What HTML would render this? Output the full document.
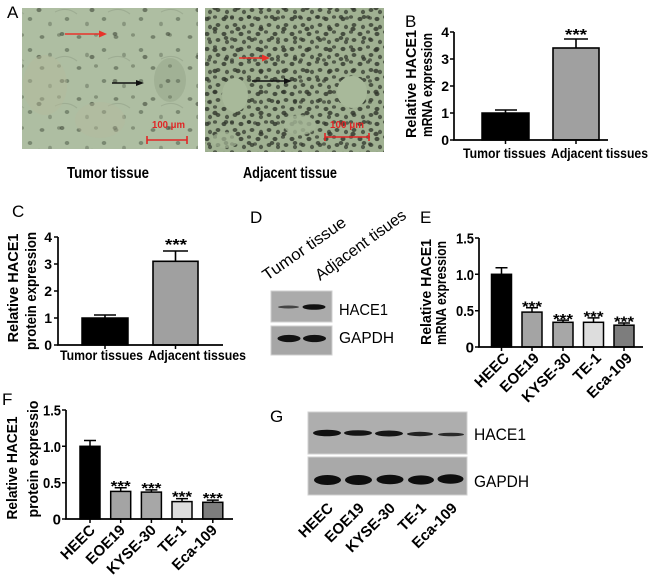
<!DOCTYPE html>
<html><head><meta charset="utf-8"><style>
html,body{margin:0;padding:0;background:#fff;}
svg{display:block;}
text{font-family:"Liberation Sans",Arial,sans-serif;}
.b{font-weight:bold;}
</style></head><body>
<svg width="651" height="575" viewBox="0 0 651 575" xmlns="http://www.w3.org/2000/svg">
<defs>
<pattern id="pT1" patternUnits="userSpaceOnUse" width="37" height="31">
<ellipse cx="5" cy="6" rx="2.4" ry="1.9" fill="#4f5a48" opacity=".6"/>
<ellipse cx="22" cy="4" rx="2" ry="1.7" fill="#4f5a48" opacity=".45"/>
<ellipse cx="30" cy="19" rx="2.3" ry="2" fill="#4f5a48" opacity=".55"/>
<ellipse cx="13" cy="24" rx="1.9" ry="2.2" fill="#4f5a48" opacity=".4"/>
</pattern>
<pattern id="pT2" patternUnits="userSpaceOnUse" width="53" height="47">
<ellipse cx="9" cy="34" rx="2.4" ry="2" fill="#3f4839" opacity=".6"/>
<ellipse cx="39" cy="10" rx="2.5" ry="2.1" fill="#3f4839" opacity=".6"/>
<path d="M2 12 Q14 6 24 14" stroke="#8e9c84" stroke-width="1.2" fill="none" opacity=".5"/>
</pattern>
<pattern id="pA1" patternUnits="userSpaceOnUse" width="17" height="15">
<ellipse cx="3" cy="4" rx="2.5" ry="2.1" fill="#363d31" opacity=".85"/>
<ellipse cx="11" cy="2" rx="2.1" ry="1.8" fill="#363d31" opacity=".75"/>
<ellipse cx="14" cy="10" rx="2.4" ry="2" fill="#363d31" opacity=".8"/>
<ellipse cx="6" cy="12" rx="2.1" ry="2.2" fill="#363d31" opacity=".75"/>
</pattern>
<pattern id="pA2" patternUnits="userSpaceOnUse" width="23" height="21">
<ellipse cx="8" cy="8" rx="2.6" ry="2.2" fill="#2f352b" opacity=".8"/>
<ellipse cx="19" cy="17" rx="2.3" ry="2" fill="#2f352b" opacity=".75"/>
<ellipse cx="2" cy="18" rx="2" ry="1.8" fill="#2f352b" opacity=".65"/>
</pattern>
</defs>

<!-- Panel A -->
<text x="7" y="18" font-size="17">A</text>
<rect x="22" y="8" width="176" height="141" fill="#aebea2"/>
<rect x="22" y="8" width="176" height="141" fill="url(#pT1)"/>
<rect x="22" y="8" width="176" height="141" fill="url(#pT2)"/>
<ellipse cx="45" cy="85" rx="22" ry="30" fill="#b6bb9c" opacity=".45"/>
<ellipse cx="100" cy="120" rx="25" ry="18" fill="#b6ba9e" opacity=".4"/>
<ellipse cx="170" cy="80" rx="16" ry="22" fill="#6f7c66" opacity=".2"/>

<rect x="205" y="8" width="179" height="144" fill="#a0b192"/>
<rect x="205" y="8" width="179" height="144" fill="url(#pA1)"/>
<rect x="205" y="8" width="179" height="144" fill="url(#pA2)"/>
<ellipse cx="235" cy="95" rx="13" ry="17" fill="#a8b99a"/>
<ellipse cx="352" cy="92" rx="15" ry="16" fill="#a8b99a"/>
<ellipse cx="300" cy="125" rx="16" ry="10" fill="#a5b697" opacity=".8"/>
<ellipse cx="225" cy="140" rx="14" ry="8" fill="#a5b697" opacity=".7"/>

<!-- arrows -->
<line x1="65" y1="34" x2="100" y2="34" stroke="#e8322a" stroke-width="1.6"/>
<polygon points="99,30.5 107,34 99,37.5" fill="#e8322a"/>
<line x1="112" y1="83" x2="137" y2="83" stroke="#111" stroke-width="1.4"/>
<polygon points="136,80 144,83 136,86" fill="#111"/>
<line x1="239" y1="58" x2="263" y2="58" stroke="#e8322a" stroke-width="1.6"/>
<polygon points="262,54.5 270,58 262,61.5" fill="#e8322a"/>
<line x1="252" y1="81" x2="285" y2="81" stroke="#111" stroke-width="1.4"/>
<polygon points="284,78 292,81 284,84" fill="#111"/>

<!-- scale bars -->
<text x="152" y="128" font-size="10" class="b" fill="#e02626" textLength="33" lengthAdjust="spacingAndGlyphs">100 μm</text>
<path d="M147 136 V144 M147 140 H187 M187 136 V144" stroke="#e02626" stroke-width="1.6" fill="none"/>
<text x="330" y="128" font-size="10" class="b" fill="#e02626" textLength="34" lengthAdjust="spacingAndGlyphs">100 μm</text>
<path d="M325 133 V141 M325 137 H369 M369 133 V141" stroke="#e02626" stroke-width="1.6" fill="none"/>

<text x="67" y="178" font-size="16" class="b" textLength="82" lengthAdjust="spacingAndGlyphs">Tumor  tissue</text>
<text x="243" y="178" font-size="16" class="b" textLength="94" lengthAdjust="spacingAndGlyphs">Adjacent tissue</text>

<!-- Panel B -->
<text x="405" y="27" font-size="17">B</text>
<text transform="translate(416,84) rotate(-90)" text-anchor="middle" font-size="15" class="b" textLength="108" lengthAdjust="spacingAndGlyphs">Relative HACE1</text>
<text transform="translate(432,85) rotate(-90)" text-anchor="middle" font-size="15" class="b" textLength="104" lengthAdjust="spacingAndGlyphs">mRNA expression</text>
<g font-size="14" class="b" text-anchor="end">
<text x="449" y="37">4</text><text x="449" y="64">3</text><text x="449" y="91">2</text><text x="449" y="118">1</text><text x="449" y="145">0</text>
</g>
<path d="M450 32 H454 M450 59 H454 M450 86 H454 M450 113 H454 M450 140 H454 M505.5 140 V144 M576 140 V144" stroke="#000" stroke-width="1.5"/>
<rect x="482" y="113" width="47" height="27" fill="#000" stroke="#000" stroke-width="1.5"/>
<rect x="553" y="48" width="46" height="92" fill="#a0a0a0" stroke="#000" stroke-width="1.6"/>
<path d="M505.5 113 V110 M495 110 H517 M576 48 V39 M564 39 H588" stroke="#000" stroke-width="1.6"/>
<path d="M454 32 V140 H608" stroke="#000" stroke-width="1.7" fill="none"/>
<text x="576" y="40" font-size="16" class="b" text-anchor="middle" textLength="22" lengthAdjust="spacingAndGlyphs">***</text>
<text x="463" y="158" font-size="14" class="b" textLength="83" lengthAdjust="spacingAndGlyphs">Tumor tissues</text>
<text x="551" y="158" font-size="14" class="b" textLength="97" lengthAdjust="spacingAndGlyphs">Adjacent tissues</text>

<!-- Panel C -->
<text x="12" y="217" font-size="17">C</text>
<text transform="translate(18,288) rotate(-90)" text-anchor="middle" font-size="15" class="b" textLength="109" lengthAdjust="spacingAndGlyphs">Relative HACE1</text>
<text transform="translate(36,291) rotate(-90)" text-anchor="middle" font-size="15" class="b" textLength="118" lengthAdjust="spacingAndGlyphs">protein expression</text>
<g font-size="14" class="b" text-anchor="end">
<text x="52" y="242">4</text><text x="52" y="269">3</text><text x="52" y="296">2</text><text x="52" y="323">1</text><text x="52" y="350">0</text>
</g>
<path d="M54 237 H58 M54 264 H58 M54 291 H58 M54 318 H58 M54 345 H58 M105 345 V349 M175.5 345 V349" stroke="#000" stroke-width="1.5"/>
<rect x="82" y="318" width="46" height="27" fill="#000" stroke="#000" stroke-width="1.5"/>
<rect x="153" y="261.3" width="45" height="83.7" fill="#a0a0a0" stroke="#000" stroke-width="1.6"/>
<path d="M105 318 V315 M94 315 H116 M175.5 261 V251 M163 251 H188" stroke="#000" stroke-width="1.6"/>
<path d="M58 237 V345 H223" stroke="#000" stroke-width="1.7" fill="none"/>
<text x="176" y="250" font-size="16" class="b" text-anchor="middle" textLength="22" lengthAdjust="spacingAndGlyphs">***</text>
<text x="60" y="360" font-size="14" class="b" textLength="83" lengthAdjust="spacingAndGlyphs">Tumor tissues</text>
<text x="148" y="360" font-size="14" class="b" textLength="98" lengthAdjust="spacingAndGlyphs">Adjacent tissues</text>

<!-- Panel D -->
<text x="250" y="223" font-size="17">D</text>
<text transform="translate(267,281) rotate(-35)" font-size="16" textLength="98" lengthAdjust="spacingAndGlyphs">Tumor  tissue</text>
<text transform="translate(320,281) rotate(-36)" font-size="16" textLength="108" lengthAdjust="spacingAndGlyphs">Adjacent tisues</text>
<rect x="271" y="291" width="61" height="31" fill="#ababab" stroke="#cfcfcf" stroke-width="1"/>
<rect x="271" y="326" width="61" height="29" fill="#a6a6a6" stroke="#cfcfcf" stroke-width="1"/>
<ellipse cx="288.5" cy="307" rx="10.5" ry="1.5" fill="#2a2a2a" opacity=".8"/>
<ellipse cx="314" cy="307" rx="11.5" ry="2.8" fill="#111"/>
<ellipse cx="289" cy="338.5" rx="11.5" ry="3.6" fill="#111"/>
<ellipse cx="314.5" cy="338.5" rx="11.5" ry="3.6" fill="#111"/>
<text x="339" y="315" font-size="16" textLength="49" lengthAdjust="spacingAndGlyphs">HACE1</text>
<text x="339" y="343" font-size="16" textLength="55" lengthAdjust="spacingAndGlyphs">GAPDH</text>

<!-- Panel E -->
<text x="420" y="223" font-size="17">E</text>
<text transform="translate(431,292) rotate(-90)" text-anchor="middle" font-size="15" class="b" textLength="106" lengthAdjust="spacingAndGlyphs">Relative HACE1</text>
<text transform="translate(446,293) rotate(-90)" text-anchor="middle" font-size="15" class="b" textLength="104" lengthAdjust="spacingAndGlyphs">mRNA expression</text>
<g font-size="15" class="b" text-anchor="end">
<text x="474" y="243.5" textLength="18" lengthAdjust="spacingAndGlyphs">1.5</text>
<text x="474" y="279.8" textLength="18" lengthAdjust="spacingAndGlyphs">1.0</text>
<text x="474" y="316.2" textLength="18" lengthAdjust="spacingAndGlyphs">0.5</text>
<text x="474" y="352.5">0</text>
</g>
<path d="M475 238 H479 M475 274.3 H479 M475 310.7 H479 M475 347 H479 M501.5 347 V351 M532 347 V351 M563 347 V351 M593.5 347 V351 M624 347 V351" stroke="#000" stroke-width="1.5"/>
<g stroke="#000" stroke-width="1.5">
<rect x="491.5" y="274.3" width="20" height="72.7" fill="#000"/>
<rect x="522" y="312.1" width="20" height="34.9" fill="#a4a4a4"/>
<rect x="553" y="322.3" width="20" height="24.7" fill="#a7a7a7"/>
<rect x="583.5" y="322.3" width="20" height="24.7" fill="#dddddd"/>
<rect x="614" y="325.2" width="20" height="21.8" fill="#7d7d7d"/>
</g>
<path d="M501.5 274 V267.8 M495.5 267.8 H507.5 M532 312 V307.7 M526 307.7 H538 M563 322 V320.1 M557 320.1 H569 M593.5 322 V317.9 M587.5 317.9 H599.5 M624 325 V323 M618 323 H630" stroke="#000" stroke-width="1.5"/>
<path d="M479 238 V347 H643" stroke="#000" stroke-width="1.7" fill="none"/>
<g font-size="15" class="b" text-anchor="middle">
<text x="532" y="311.5" textLength="20" lengthAdjust="spacingAndGlyphs">***</text>
<text x="563" y="324" textLength="20" lengthAdjust="spacingAndGlyphs">***</text>
<text x="593.5" y="321.5" textLength="20" lengthAdjust="spacingAndGlyphs">***</text>
<text x="624" y="326.5" textLength="20" lengthAdjust="spacingAndGlyphs">***</text>
</g>
<g font-size="15" class="b" text-anchor="end">
<text transform="translate(510,359) rotate(-45)">HEEC</text>
<text transform="translate(540,359) rotate(-45)">EOE19</text>
<text transform="translate(572,359) rotate(-45)">KYSE-30</text>
<text transform="translate(602,359) rotate(-45)">TE-1</text>
<text transform="translate(633,359) rotate(-45)">Eca-109</text>
</g>

<!-- Panel F -->
<text x="2" y="405" font-size="17">F</text>
<text transform="translate(17,468) rotate(-90)" text-anchor="middle" font-size="15" class="b" textLength="103" lengthAdjust="spacingAndGlyphs">Relative HACE1</text>
<text transform="translate(38,459) rotate(-90)" text-anchor="middle" font-size="15" class="b" textLength="117" lengthAdjust="spacingAndGlyphs">protein expressio</text>
<g font-size="15" class="b" text-anchor="end">
<text x="61" y="415.5" textLength="18" lengthAdjust="spacingAndGlyphs">1.5</text>
<text x="61" y="451.8" textLength="18" lengthAdjust="spacingAndGlyphs">1.0</text>
<text x="61" y="488.2" textLength="18" lengthAdjust="spacingAndGlyphs">0.5</text>
<text x="61" y="524.5">0</text>
</g>
<path d="M62 410 H66 M62 446.3 H66 M62 482.7 H66 M62 519 H66 M90 519 V523 M120.7 519 V523 M151.4 519 V523 M182 519 V523 M212.8 519 V523" stroke="#000" stroke-width="1.5"/>
<g stroke="#000" stroke-width="1.5">
<rect x="80" y="446.3" width="20" height="72.7" fill="#000"/>
<rect x="110.7" y="491.4" width="20" height="27.6" fill="#a4a4a4"/>
<rect x="141.4" y="492.1" width="20" height="26.9" fill="#a7a7a7"/>
<rect x="172" y="501.6" width="20" height="17.4" fill="#dddddd"/>
<rect x="202.8" y="502.3" width="20" height="16.7" fill="#7d7d7d"/>
</g>
<path d="M90 446 V440.5 M84 440.5 H96 M120.7 491 V487.7 M114.7 487.7 H126.7 M151.4 492 V489.9 M145.4 489.9 H157.4 M182 501 V498.6 M176 498.6 H188 M212.8 502 V500.1 M206.8 500.1 H218.8" stroke="#000" stroke-width="1.5"/>
<path d="M66 410 V519 H233" stroke="#000" stroke-width="1.7" fill="none"/>
<g font-size="15" class="b" text-anchor="middle">
<text x="120.7" y="491" textLength="20" lengthAdjust="spacingAndGlyphs">***</text>
<text x="151.4" y="493" textLength="20" lengthAdjust="spacingAndGlyphs">***</text>
<text x="182" y="501.5" textLength="20" lengthAdjust="spacingAndGlyphs">***</text>
<text x="212.8" y="503" textLength="20" lengthAdjust="spacingAndGlyphs">***</text>
</g>
<g font-size="15" class="b" text-anchor="end">
<text transform="translate(96,531) rotate(-45)">HEEC</text>
<text transform="translate(126,531) rotate(-45)">EOE19</text>
<text transform="translate(157,531) rotate(-45)">KYSE-30</text>
<text transform="translate(187,531) rotate(-45)">TE-1</text>
<text transform="translate(218,531) rotate(-45)">Eca-109</text>
</g>

<!-- Panel G -->
<text x="270" y="422" font-size="17">G</text>
<rect x="308" y="412" width="159" height="42" fill="#aeaeae" stroke="#d0d0d0" stroke-width="1"/>
<rect x="308" y="457" width="159" height="38" fill="#a9a9a9" stroke="#d0d0d0" stroke-width="1"/>
<ellipse cx="327" cy="433" rx="14" ry="3.3" fill="#111"/>
<ellipse cx="358" cy="433" rx="14" ry="2.8" fill="#151515"/>
<ellipse cx="389" cy="433.5" rx="14" ry="3" fill="#151515"/>
<ellipse cx="420" cy="434" rx="13" ry="2.2" fill="#222"/>
<ellipse cx="451" cy="434.5" rx="13" ry="1.8" fill="#2a2a2a"/>
<ellipse cx="327.5" cy="480" rx="13.5" ry="5" fill="#0e0e0e"/>
<ellipse cx="358.5" cy="480" rx="13.5" ry="5" fill="#0e0e0e"/>
<ellipse cx="390" cy="479.5" rx="13.5" ry="4.8" fill="#0e0e0e"/>
<ellipse cx="421" cy="480" rx="13" ry="4.6" fill="#0e0e0e"/>
<ellipse cx="450.5" cy="479" rx="13" ry="4.8" fill="#0e0e0e"/>
<text x="474" y="440" font-size="17" textLength="52" lengthAdjust="spacingAndGlyphs">HACE1</text>
<text x="474" y="487" font-size="17" textLength="55" lengthAdjust="spacingAndGlyphs">GAPDH</text>
<g font-size="15" class="b" text-anchor="end">
<text transform="translate(334,509) rotate(-45)">HEEC</text>
<text transform="translate(365,509) rotate(-45)">EOE19</text>
<text transform="translate(396,509) rotate(-45)">KYSE-30</text>
<text transform="translate(427,509) rotate(-45)">TE-1</text>
<text transform="translate(458,509) rotate(-45)">Eca-109</text>
</g>
</svg>
</body></html>
